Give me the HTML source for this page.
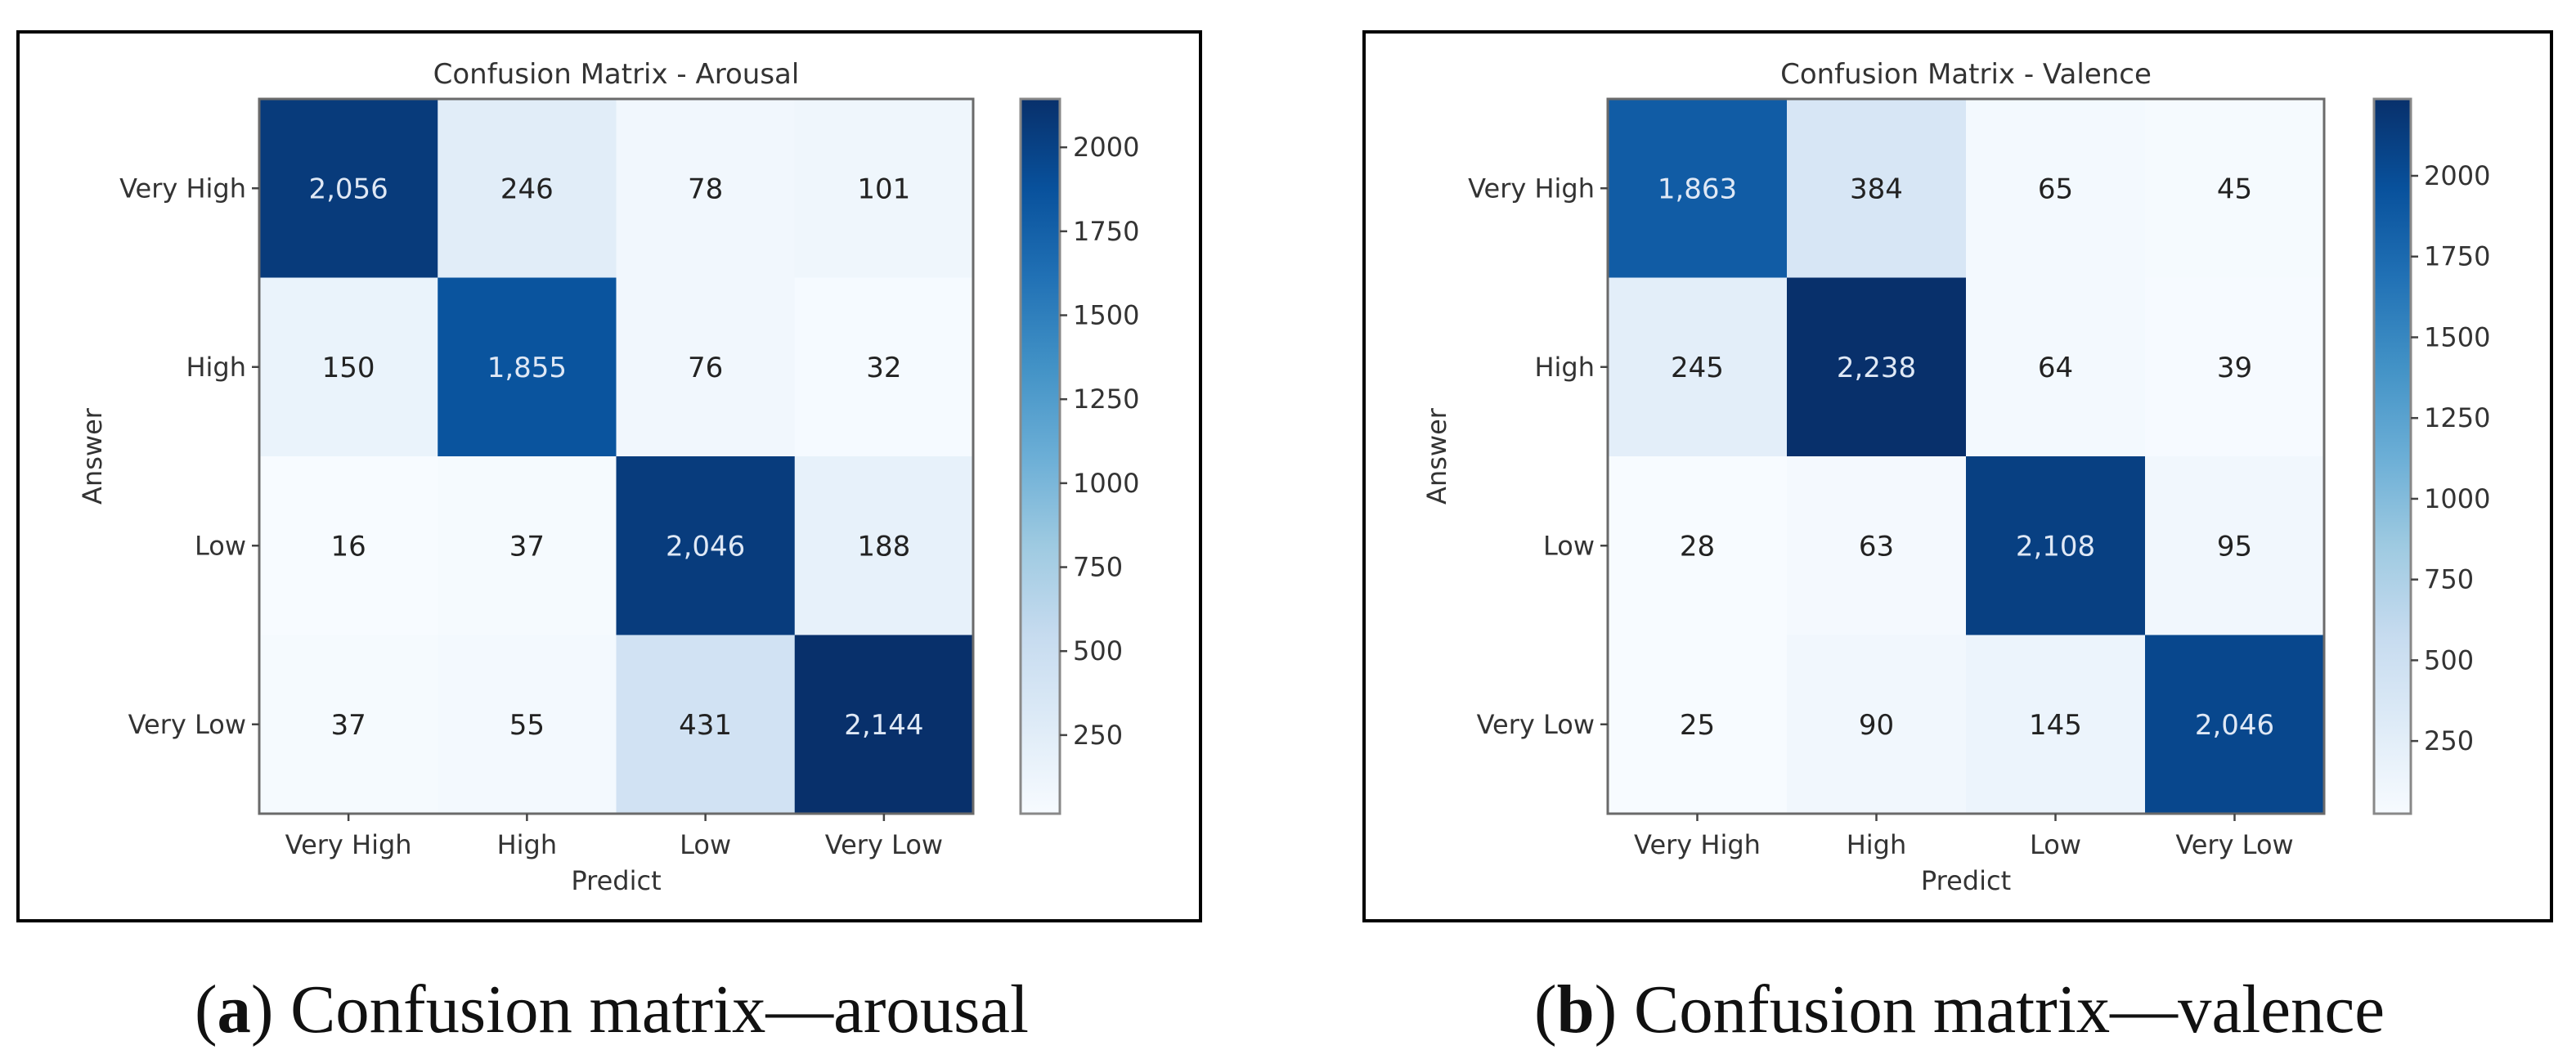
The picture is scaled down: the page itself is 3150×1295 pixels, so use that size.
<!DOCTYPE html>
<html><head><meta charset="utf-8"><style>
html,body{margin:0;padding:0;background:#fff;}
svg{display:block;}
.t{font-family:"DejaVu Sans","Liberation Sans",sans-serif;fill:#333;}
.cap{font-family:"Liberation Serif",serif;fill:#111;}
</style></head><body>
<svg id="fig" width="3150" height="1295" viewBox="0 0 3150 1295" xmlns="http://www.w3.org/2000/svg">
<defs>
<linearGradient id="blues" x1="0" y1="1" x2="0" y2="0">
<stop offset="0" stop-color="#f7fbff"/><stop offset="0.125" stop-color="#deebf7"/><stop offset="0.25" stop-color="#c6dbef"/><stop offset="0.375" stop-color="#9ecae1"/><stop offset="0.5" stop-color="#6baed6"/><stop offset="0.625" stop-color="#4292c6"/><stop offset="0.75" stop-color="#2171b5"/><stop offset="0.875" stop-color="#08519c"/><stop offset="1" stop-color="#08306b"/>
</linearGradient>
</defs>
</svg>
<script>
const labels = ["Very High","High","Low","Very Low"];
const arousalValues = [[2056,246,78,101],[150,1855,76,32],[16,37,2046,188],[37,55,431,2144]];
const valenceValues = [[1863,384,65,45],[245,2238,64,39],[28,63,2108,95],[25,90,145,2046]];
const cbTicks = [250,500,750,1000,1250,1500,1750,2000];
const titles = ["Confusion Matrix - Arousal","Confusion Matrix - Valence"];

const stops = ["#f7fbff","#deebf7","#c6dbef","#9ecae1","#6baed6","#4292c6","#2171b5","#08519c","#08306b"].map(h=>[parseInt(h.substr(1,2),16),parseInt(h.substr(3,2),16),parseInt(h.substr(5,2),16)]);
function blues(t){t=Math.max(0,Math.min(1,t));const p=t*8;const i=Math.min(7,Math.floor(p));const f=p-i;const a=stops[i],b=stops[i+1];return `rgb(${a.map((v,k)=>Math.round(v+(b[k]-v)*f)).join(',')})`;}
const NS="http://www.w3.org/2000/svg";
const svg=document.getElementById('fig');
function mk(tag,attrs,parent,text){const e=document.createElementNS(NS,tag);for(const k in attrs)e.setAttribute(k,attrs[k]);if(text!==undefined)e.textContent=text;(parent||svg).appendChild(e);return e;}
function fmt(v){return v.toLocaleString('en-US');}

function panel(cfg){
  const g=mk('g',{});
  
  
  const fr=mk('rect',{x:cfg.fx0,y:39,width:cfg.fx1-cfg.fx0,height:1087,fill:'#fff',stroke:'#000','stroke-width':4},g);
  
  
  const vals=cfg.values;const flat=vals.flat();const vmin=Math.min(...flat),vmax=Math.max(...flat);
  const x0=cfg.mx0,x1=cfg.mx1,y0=121,y1=995;const cw=(x1-x0)/4,ch=(y1-y0)/4;
  const xs=j=>x0+j*cw, ys=i=>y0+i*ch;
  const thresh=(vmin+vmax)/2;
  for(let i=0;i<4;i++)for(let j=0;j<4;j++){
    const v=vals[i][j];
    const r=mk('rect',{x:xs(j),y:ys(i),width:cw+0.5,height:ch+0.5,fill:blues((v-vmin)/(vmax-vmin))},g);
    
    
    const t=mk('text',{x:xs(j)+cw/2,y:ys(i)+ch/2+12,'text-anchor':'middle','font-size':34,class:'t',style:v>thresh?'fill:#dfe8f5':'fill:#222'},g,fmt(v));
    
    
  }
  const sp=mk('rect',{x:x0,y:y0,width:x1-x0,height:y1-y0,fill:'none',stroke:'#6a6a6a','stroke-width':3},g);
  
  
  for(let k=0;k<4;k++){
    const cx=xs(k)+cw/2, cy=ys(k)+ch/2;
    mk('line',{x1:cx,y1:y1,x2:cx,y2:y1+9,stroke:'#444','stroke-width':2.5},g);
    mk('line',{x1:x0,y1:cy,x2:x0-9,y2:cy,stroke:'#444','stroke-width':2.5},g);
    const xl=mk('text',{x:cx,y:1044,'text-anchor':'middle','font-size':32,class:'t'},g,labels[k]);
    
    
    const yl=mk('text',{x:x0-16,y:cy+11,'text-anchor':'end','font-size':32,class:'t'},g,labels[k]);
    
    
  }
  const xt=mk('text',{x:(x0+x1)/2,y:1088,'text-anchor':'middle','font-size':32,class:'t'},g,'Predict');
  
  
  const yt=mk('text',{x:cfg.ax,y:(y0+y1)/2,'text-anchor':'middle','font-size':32,class:'t',transform:`rotate(-90 ${cfg.ax} ${(y0+y1)/2})`},g,'Answer');
  
  
  const tt=mk('text',{x:(x0+x1)/2,y:102,'text-anchor':'middle','font-size':34,class:'t'},g,cfg.title);
  
  
  // colorbar
  const cb=mk('rect',{x:cfg.cx0,y:y0,width:cfg.cx1-cfg.cx0,height:y1-y0,fill:'url(#blues)',stroke:'#888','stroke-width':3},g);
  
  
  const cy=v=>y1-(v-vmin)/(vmax-vmin)*(y1-y0);
  cbTicks.forEach(v=>{
    if(v<vmin||v>vmax)return;
    mk('line',{x1:cfg.cx1,y1:cy(v),x2:cfg.cx1+9,y2:cy(v),stroke:'#444','stroke-width':2.5},g);
    const l=mk('text',{x:cfg.cx1+16,y:cy(v)+11,'font-size':32,class:'t'},g,String(v));
    
    
  });
  const cap=mk('text',{x:cfg.capx,y:1262,'text-anchor':'middle','font-size':84,class:'cap',textLength:cfg.capw,lengthAdjust:'spacingAndGlyphs'},g);
  
  
  mk('tspan',{},cap,'(');
  mk('tspan',{'font-weight':'bold'},cap,cfg.letter);
  mk('tspan',{},cap,') '+cfg.caption);
}
panel({name:'arousal-panel',values:arousalValues,title:titles[0],fx0:22,fx1:1468,mx0:317,mx1:1190,cx0:1248,cx1:1296,ax:124,capx:748,capw:1020,letter:'a',caption:'Confusion matrix\u2014arousal'});
panel({name:'valence-panel',values:valenceValues,title:titles[1],fx0:1668,fx1:3120,mx0:1966,mx1:2842,cx0:2903,cx1:2948,ax:1768,capx:2396,capw:1040,letter:'b',caption:'Confusion matrix\u2014valence'});
</script>
</body></html>
